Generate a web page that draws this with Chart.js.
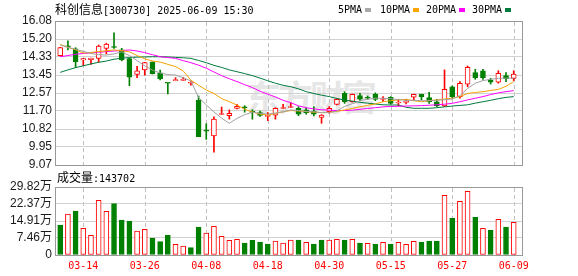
<!DOCTYPE html>
<html>
<head>
<meta charset="utf-8">
<title>科创信息 K线</title>
<script src="https://cdn.jsdelivr.net/npm/chart.js@4.4.1/dist/chart.umd.min.js"></script>
<style>
  body { margin: 0; background: #fff; }
  #wrap { position: relative; width: 578px; height: 276px; overflow: hidden; background: #fff; }
  canvas { position: absolute; left: 0; }
  #priceChart { top: 0; z-index: 2; }
  #volChart { top: 176px; z-index: 2; }
  .txt { position: absolute; white-space: nowrap; z-index: 3; color: #000;
         font-family: "DejaVu Sans Mono", monospace; font-size: 10px; line-height: 12px; }
  .cjk { font-family: "Noto Sans CJK SC", sans-serif; font-size: 12px; }
  .sq { position: absolute; width: 6px; height: 4px; z-index: 3; }
  .vline { position: absolute; width: 1px; z-index: 1;
           background: repeating-linear-gradient(to bottom, #bfbfbf 0px, #bfbfbf 4px, transparent 4px, transparent 7px); }
  #watermark { position: absolute; left: 246px; top: 70px; z-index: 1; color: #e6e6e6;
               font-family: "Noto Sans CJK SC", sans-serif; font-weight: bold; font-size: 35px; letter-spacing: -3px; }
</style>
</head>
<body>
<div id="wrap">
  <div id="watermark">东方财富</div>
  <canvas id="priceChart" width="578" height="176"></canvas>
  <canvas id="volChart" width="578" height="100"></canvas>

  <div class="txt" style="left:55px; top:3px;"><span class="cjk">科创信息</span>[300730] 2025-06-09 15:30</div>
  <div class="txt" style="left:338px; top:4px;">5PMA</div>
  <div class="sq" style="left:365px; top:8px; background:#a9a9a9;"></div>
  <div class="txt" style="left:380px; top:4px;">10PMA</div>
  <div class="sq" style="left:413px; top:8px; background:#ffa500;"></div>
  <div class="txt" style="left:426px; top:4px;">20PMA</div>
  <div class="sq" style="left:459px; top:8px; background:#ff00ff;"></div>
  <div class="txt" style="left:472px; top:4px;">30PMA</div>
  <div class="sq" style="left:505px; top:8px; background:#007a3d;"></div>
  <div class="txt" style="left:57px; top:171px;"><span class="cjk">成交量</span>:143702</div>
</div>
<script>
// trading days shown (categories)
const dates = [
    '03-11', '03-12', '03-13', '03-14', '03-17', '03-18', '03-19', '03-20', '03-21', '03-24',
    '03-25', '03-26', '03-27', '03-28', '03-31', '04-01', '04-02', '04-03', '04-07', '04-08',
    '04-09', '04-10', '04-11', '04-14', '04-15', '04-16', '04-17', '04-18', '04-21', '04-22',
    '04-23', '04-24', '04-25', '04-28', '04-29', '04-30', '05-06', '05-07', '05-08', '05-09',
    '05-12', '05-13', '05-14', '05-15', '05-16', '05-19', '05-20', '05-21', '05-22', '05-23',
    '05-26', '05-27', '05-28', '05-29', '05-30', '06-03', '06-04', '06-05', '06-06', '06-09'
];

// daily prices
const openP = [
    14.39, 14.85, 14.72, 14.18, 14.20, 14.26, 14.75, 14.82, 14.68, 14.25,
    13.48, 13.70, 14.08, 13.56, 13.06, 13.18, 13.19, 13.05, 12.22, 10.75,
    10.48, 11.53, 11.47, 11.83, 11.88, 11.65, 11.62, 11.44, 11.50, 11.82,
    11.87, 11.83, 11.75, 11.70, 11.39, 11.67, 12.02, 12.56, 12.15, 12.45,
    12.37, 12.51, 12.26, 12.37, 12.09, 12.12, 12.37, 12.51, 12.35, 12.14,
    11.94, 12.88, 12.40, 13.00, 13.57, 13.66, 13.21, 13.10, 13.42, 13.29
];
const closeP = [
    14.78, 14.82, 14.10, 14.25, 14.27, 14.86, 14.96, 14.79, 14.19, 13.34,
    13.65, 14.05, 13.52, 13.27, 13.05, 13.20, 13.21, 13.07, 10.45, 10.72,
    11.30, 11.56, 11.59, 11.93, 11.85, 11.63, 11.48, 11.46, 11.83, 11.84,
    11.89, 11.54, 11.62, 11.54, 11.50, 11.83, 12.27, 12.15, 12.51, 12.27,
    12.32, 12.26, 12.28, 12.07, 12.11, 12.15, 12.51, 12.38, 12.15, 11.94,
    12.75, 12.40, 13.05, 13.83, 13.31, 13.32, 13.10, 13.53, 13.27, 13.50
];
const highP = [
    14.80, 15.11, 14.78, 14.26, 14.28, 14.91, 15.00, 15.51, 14.75, 14.27,
    13.87, 14.07, 14.10, 13.69, 13.06, 13.32, 13.34, 13.16, 12.43, 11.08,
    11.41, 11.89, 11.75, 12.02, 11.96, 11.76, 11.70, 11.63, 11.86, 12.02,
    12.10, 11.91, 11.86, 11.91, 11.52, 11.91, 12.32, 12.64, 12.53, 12.56,
    12.43, 12.58, 12.40, 12.40, 12.27, 12.27, 12.52, 12.52, 12.61, 12.27,
    13.70, 12.92, 13.13, 13.89, 13.73, 13.73, 13.29, 13.66, 13.57, 13.66
];
const lowP = [
    14.37, 14.67, 13.81, 13.91, 13.97, 14.07, 14.48, 14.75, 14.14, 12.93,
    13.32, 13.44, 13.50, 13.21, 12.53, 13.17, 13.18, 12.96, 10.45, 10.32,
    9.69, 11.52, 11.30, 11.80, 11.64, 11.30, 11.43, 11.23, 11.30, 11.81,
    11.86, 11.47, 11.54, 11.46, 11.10, 11.59, 11.99, 12.07, 12.13, 12.20,
    12.27, 12.20, 12.15, 12.02, 11.94, 12.04, 12.20, 12.24, 12.07, 11.91,
    11.91, 12.32, 12.32, 12.88, 13.24, 13.24, 13.01, 13.05, 13.13, 13.18
];
const prevClose = 14.85; // close of the day before the window

// moving averages as drawn
const ma5 = [
    14.91, 14.80, 14.70, 14.60, 14.50, 14.44, 14.42, 14.48, 14.58, 14.40,
    14.15, 13.90, 13.69, 13.55, 13.47, 13.45, 13.32, 13.16, 12.35, 12.00,
    11.65, 11.35, 11.10, 11.34, 11.52, 11.64, 11.58, 11.55, 11.60, 11.66,
    11.75, 11.72, 11.68, 11.66, 11.62, 11.62, 11.70, 11.92, 12.05, 12.20,
    12.27, 12.32, 12.32, 12.30, 12.25, 12.22, 12.22, 12.20, 12.20, 12.22,
    12.25, 12.28, 12.45, 12.80, 13.05, 13.18, 13.24, 13.29, 13.30, 13.30
];
const ma10 = [
    14.94, 14.80, 14.68, 14.52, 14.55, 14.59, 14.63, 14.67, 14.64, 14.58,
    14.40, 14.24, 14.13, 14.08, 13.97, 13.86, 13.65, 13.20, 12.95, 12.72,
    12.55, 12.30, 12.15, 11.99, 11.78, 11.65, 11.55, 11.50, 11.58, 11.66,
    11.72, 11.70, 11.67, 11.64, 11.62, 11.64, 11.68, 11.75, 11.82, 11.90,
    11.98, 12.04, 12.15, 12.20, 12.24, 12.27, 12.20, 12.15, 12.20, 12.24,
    12.28, 12.32, 12.40, 12.55, 12.60, 12.64, 12.70, 12.75, 12.90, 13.13
];
const ma20 = [
    14.34, 14.40, 14.46, 14.50, 14.53, 14.56, 14.59, 14.62, 14.64, 14.67,
    14.62, 14.54, 14.44, 14.34, 14.30, 14.26, 14.15, 14.05, 13.93, 13.78,
    13.60, 13.42, 13.27, 13.13, 12.98, 12.84, 12.66, 12.52, 12.38, 12.22,
    12.10, 11.95, 11.86, 11.80, 11.76, 11.74, 11.72, 11.72, 11.74, 11.78,
    11.82, 11.86, 11.90, 11.92, 11.93, 11.94, 11.95, 11.96, 11.98, 12.00,
    12.03, 12.07, 12.15, 12.24, 12.32, 12.40, 12.50, 12.58, 12.64, 12.69
];
const ma30 = [
    13.58, 13.70, 13.81, 13.90, 13.99, 14.07, 14.13, 14.22, 14.27, 14.30,
    14.32, 14.33, 14.34, 14.34, 14.33, 14.31, 14.29, 14.26, 14.16, 14.05,
    13.92, 13.82, 13.70, 13.61, 13.52, 13.42, 13.30, 13.17, 13.05, 12.95,
    12.88, 12.78, 12.64, 12.55, 12.47, 12.40, 12.31, 12.23, 12.18, 12.12,
    12.08, 12.04, 12.00, 11.99, 11.99, 11.88, 11.83, 11.83, 11.83, 11.86,
    11.90, 11.94, 11.97, 12.00, 12.08, 12.15, 12.22, 12.30, 12.36, 12.40
];

// volume, in 万 (10k shares)
const volume = [
    13.16, 17.98, 19.30, 11.70, 8.60, 23.98, 19.10, 22.50, 15.35, 14.90,
    10.50, 11.26, 7.45, 5.85, 8.60, 4.68, 3.95, 3.22, 12.28, 9.65,
    12.57, 8.18, 6.43, 6.87, 5.26, 6.43, 5.70, 4.82, 6.14, 5.26,
    6.58, 6.58, 5.56, 4.82, 6.58, 6.58, 6.87, 6.58, 6.87, 5.26,
    5.11, 4.82, 5.56, 4.82, 5.56, 4.68, 6.00, 5.70, 6.14, 6.14,
    26.17, 16.08, 23.53, 27.92, 16.52, 11.70, 10.96, 15.64, 12.28, 14.37
];

// axis ticks
const priceTicks = [9.07, 9.95, 10.82, 11.70, 12.57, 13.45, 14.33, 15.20, 16.08];
const volTicks = [0, 7.46, 14.91, 22.37, 29.82];
const dateTickIdx = [3, 11, 19, 27, 35, 43, 51, 59];

const RED = '#ff0000';
const GREEN = '#008000';
const axisFont = { family: "'Liberation Sans', 'Noto Sans CJK SC', sans-serif", size: 12 };

const idx = dates.map((d, i) => i);
const candleUp = idx.map(i => closeP[i] >= openP[i]);
const volUp = idx.map(i => closeP[i] >= (i === 0 ? prevClose : closeP[i - 1]));

// gray frame around each plot area
const framePlugin = {
    id: 'frame',
    afterDraw(chart) {
        const { ctx, chartArea: a } = chart;
        const l = Math.round(a.left) + 0.5, t = Math.round(a.top) + 0.5;
        const r = Math.round(a.right) + 0.5, b = Math.round(a.bottom) + 0.5;
        ctx.save();
        ctx.strokeStyle = '#999999';
        ctx.lineWidth = 1;
        ctx.strokeRect(l, t, r - l, b - t);
        ctx.restore();
    }
};

function xScale(showLabels) {
    return {
        type: 'linear',
        min: -0.68,
        max: 60.08,
        offset: false,
        afterBuildTicks: s => { s.ticks = dateTickIdx.map(v => ({ value: v })); },
        afterFit: s => { s.height = showLabels ? 21 : 0; },
        grid: { display: false, drawTicks: false, offset: false },
        border: { display: false },
        ticks: {
            display: showLabels,
            autoSkip: false,
            maxRotation: 0,
            padding: 5,
            color: RED,
            font: { family: "'DejaVu Sans Mono', monospace", size: 10 },
            callback: v => dates[v]
        }
    };
}

function yScale(min, max, ticks, fmt) {
    return {
        min: min,
        max: max,
        afterBuildTicks: s => { s.ticks = ticks.map(v => ({ value: v })); },
        afterFit: s => { s.width = 55; },
        grid: { color: '#d2d2d2', drawTicks: false },
        border: { display: false },
        ticks: { autoSkip: false, padding: 3, color: '#1a1a1a', font: axisFont, callback: fmt }
    };
}

function maSet(label, values, color) {
    return {
        type: 'line',
        label: label,
        data: values.map((v, i) => ({ x: i, y: v })),
        borderColor: color,
        borderWidth: 1,
        pointRadius: 0,
        tension: 0,
        order: 0
    };
}

// K line chart
const priceChart = new Chart(document.getElementById('priceChart').getContext('2d'), {
    type: 'bar',
    data: {
        datasets: [
            maSet('5PMA', ma5, '#a0a0a0'),
            maSet('10PMA', ma10, '#f5a300'),
            maSet('20PMA', ma20, '#ff00ff'),
            maSet('30PMA', ma30, '#007a3d'),
            {
                label: 'body',
                data: idx.map(i => ({ x: i, y: [openP[i], closeP[i]] })),
                backgroundColor: candleUp.map(u => u ? '#ffffff' : GREEN),
                borderColor: candleUp.map(u => u ? RED : GREEN),
                borderWidth: 1,
                borderSkipped: false,
                barThickness: 5,
                minBarLength: 1,
                grouped: false,
                order: 1
            },
            {
                label: 'wick',
                data: idx.map(i => ({ x: i, y: [lowP[i], highP[i]] })),
                backgroundColor: candleUp.map(u => u ? RED : GREEN),
                borderWidth: 0,
                barThickness: 1,
                grouped: false,
                order: 2
            }
        ]
    },
    options: {
        responsive: false,
        animation: false,
        events: [],
        layout: { padding: { top: 21, right: 56, bottom: 11, left: 0 } },
        scales: {
            x: xScale(false),
            y: yScale(9.07, 16.08, priceTicks, v => v.toFixed(2))
        },
        plugins: { legend: { display: false }, tooltip: { enabled: false } }
    },
    plugins: [framePlugin]
});

// volume chart
const volChart = new Chart(document.getElementById('volChart').getContext('2d'), {
    type: 'bar',
    data: {
        datasets: [{
            label: '成交量',
            data: idx.map(i => ({ x: i, y: volume[i] })),
            backgroundColor: volUp.map(u => u ? '#ffffff' : GREEN),
            borderColor: volUp.map(u => u ? RED : GREEN),
            borderWidth: 1,
            borderSkipped: false,
            barThickness: 5
        }]
    },
    options: {
        responsive: false,
        animation: false,
        events: [],
        layout: { padding: { top: 11, right: 56, bottom: 0, left: 0 } },
        scales: {
            x: xScale(true),
            y: yScale(0, 29.82, volTicks, v => v === 0 ? '0' : v.toFixed(2) + '万')
        },
        plugins: { legend: { display: false }, tooltip: { enabled: false } }
    },
    plugins: [framePlugin]
});

// dashed date lines as thin page elements behind the (transparent) canvases
const wrap = document.getElementById('wrap');
[[priceChart, 0], [volChart, 176]].forEach(([chart, offsetTop]) => {
    const a = chart.chartArea;
    dateTickIdx.forEach(i => {
        const px = chart.scales.x.getPixelForValue(i);
        const line = document.createElement('div');
        line.className = 'vline';
        line.style.left = Math.round(isFinite(px) ? px : a.left + (i + 0.68) / 60.76 * (a.right - a.left)) + 'px';
        line.style.top = Math.round(offsetTop + a.top + 1) + 'px';
        line.style.height = Math.round(a.bottom - a.top - 1) + 'px';
        wrap.appendChild(line);
    });
});
</script>
</body>
</html>
